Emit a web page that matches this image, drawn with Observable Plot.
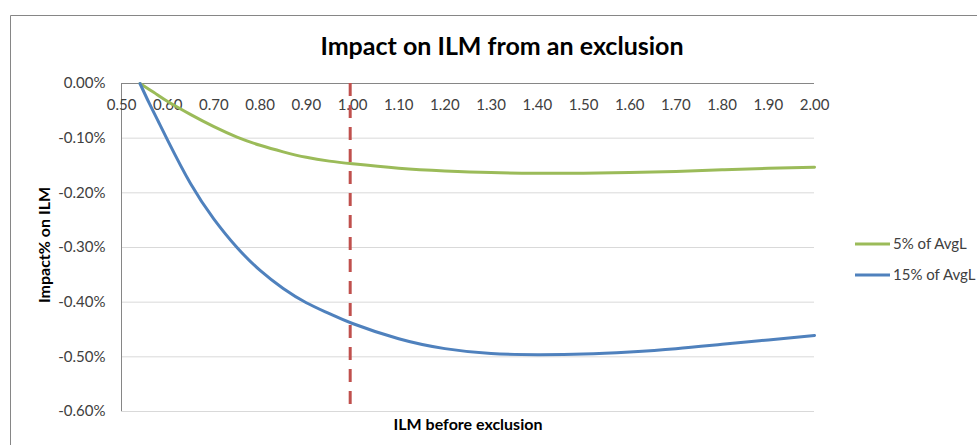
<!DOCTYPE html>
<html>
<head>
<meta charset="utf-8">
<script src="https://cdn.jsdelivr.net/npm/d3@7"></script>
<script src="https://cdn.jsdelivr.net/npm/@observablehq/plot@0.6"></script>
<style>
  html, body { margin: 0; padding: 0; background: #fff; }
  #chart svg { display: block; }
</style>
</head>
<body>
<div id="chart"></div>
<script>
// ---- data ----
const title = "Impact on ILM from an exclusion";
const xTitle = "ILM before exclusion";
const yTitle = "Impact% on ILM";
const seriesNames = ["5% of AvgL", "15% of AvgL"];
const seriesColors = ["#9BBB59", "#4F81BD"];

const ilm = [0.54, 0.56, 0.58, 0.60, 0.65, 0.70, 0.75, 0.80, 0.85, 0.90, 0.95, 1.00,
             1.10, 1.20, 1.30, 1.40, 1.50, 1.60, 1.70, 1.80, 1.90, 2.00];
const impact5 = [0.000, -0.011, -0.022, -0.033, -0.057, -0.079, -0.098, -0.113, -0.125, -0.135, -0.142, -0.147,
                 -0.155, -0.160, -0.163, -0.164, -0.164, -0.163, -0.161, -0.158, -0.155, -0.153];
const impact15 = [0.000, -0.036, -0.070, -0.104, -0.184, -0.248, -0.300, -0.342, -0.375, -0.401, -0.421, -0.439,
                  -0.467, -0.485, -0.494, -0.496, -0.495, -0.491, -0.485, -0.477, -0.469, -0.461];

const xTicks = [0.5, 0.6, 0.7, 0.8, 0.9, 1.0, 1.1, 1.2, 1.3, 1.4, 1.5, 1.6, 1.7, 1.8, 1.9, 2.0];
const yTicks = [0, -0.1, -0.2, -0.3, -0.4, -0.5, -0.6];
const markerX = [0.995];

// ---- build tables ----
const s5 = ilm.map((x, i) => ({x, y: impact5[i]}));
const s15 = ilm.map((x, i) => ({x, y: impact15[i]}));

const font = "Lato, 'Open Sans', sans-serif";

const chart = Plot.plot({
  width: 977,
  height: 445,
  marginLeft: 121,
  marginRight: 163,
  marginTop: 83,
  marginBottom: 34,
  style: {fontFamily: font, fontSize: "15px", background: "#fff", color: "#404040"},
  x: {domain: [0.5, 2.0], axis: null},
  y: {domain: [-0.6, 0]},
  marks: [
    Plot.gridY(yTicks, {stroke: "#d9d9d9", strokeOpacity: 1, strokeWidth: 1}),
    Plot.ruleY([0], {stroke: "#868686", strokeWidth: 1}),
    Plot.ruleX([0.5], {stroke: "#868686", strokeWidth: 1}),
    Plot.axisY(yTicks, {
      tickSize: 0, tickPadding: 16, label: null,
      tickFormat: d => d.toFixed(2) + "%",
      fontSize: 15, color: "#404040"
    }),
    Plot.text(xTicks, {
      x: d => d, y: 0, dy: 22,
      text: d => d.toFixed(2),
      fontSize: 15, fill: "#404040", textAnchor: "middle"
    }),
    Plot.line(s5, {x: "x", y: "y", stroke: seriesColors[0], strokeWidth: 3, curve: "natural"}),
    Plot.line(s15, {x: "x", y: "y", stroke: seriesColors[1], strokeWidth: 3, curve: "natural"}),
    Plot.ruleX(markerX, {y1: 0, y2: -0.6, stroke: "#C0504D", strokeWidth: 3, strokeDasharray: "13,9"})
  ]
});

const svg = d3.select(chart);

// outer chart frame
svg.insert("path", ":first-child")
  .attr("d", "M10.5,445 V15.5 H977")
  .attr("fill", "none")
  .attr("stroke", "#868686")
  .attr("stroke-width", 1);

// title
svg.append("text")
  .attr("x", 502).attr("y", 55)
  .attr("text-anchor", "middle")
  .attr("font-family", font)
  .attr("font-size", 25).attr("font-weight", "bold")
  .attr("fill", "#000")
  .text(title);

// x axis title
svg.append("text")
  .attr("x", 468).attr("y", 430)
  .attr("text-anchor", "middle")
  .attr("font-family", font)
  .attr("font-size", 16).attr("font-weight", "bold")
  .attr("fill", "#000")
  .text(xTitle);

// y axis title
svg.append("text")
  .attr("transform", "translate(50,245) rotate(-90)")
  .attr("text-anchor", "middle")
  .attr("font-family", font)
  .attr("font-size", 16).attr("font-weight", "bold")
  .attr("fill", "#000")
  .text(yTitle);

// legend
const legY = [244, 275];
seriesNames.forEach((name, i) => {
  const g = svg.append("g");
  g.append("line")
    .attr("x1", 855).attr("x2", 890)
    .attr("y1", legY[i]).attr("y2", legY[i])
    .attr("stroke", seriesColors[i]).attr("stroke-width", 3);
  g.append("text")
    .attr("x", 893).attr("y", legY[i])
    .attr("dy", "0.35em")
    .attr("text-anchor", "start")
    .attr("font-family", font)
    .attr("font-size", 15)
    .attr("fill", "#404040")
    .text(name);
});

document.getElementById("chart").appendChild(chart);
</script>
</body>
</html>
